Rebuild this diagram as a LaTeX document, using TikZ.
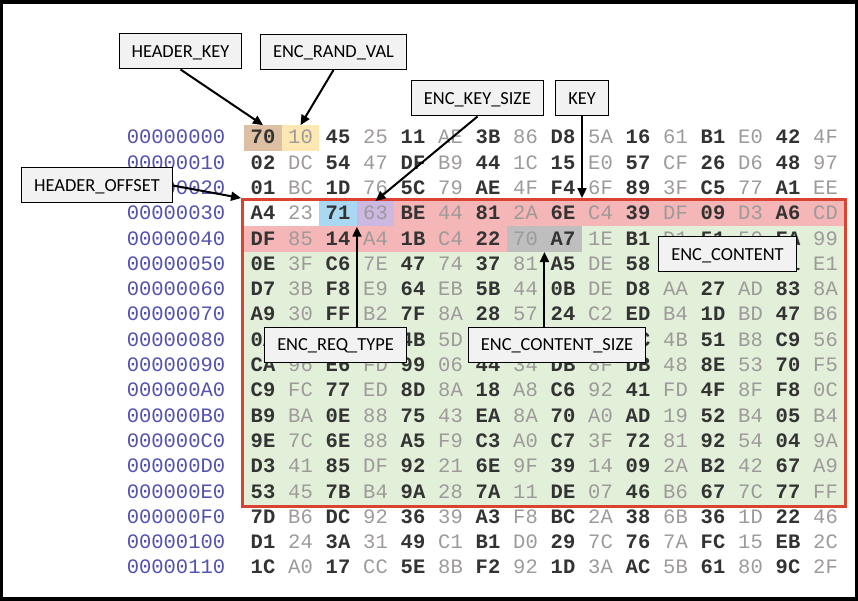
\documentclass[tikz,border=0pt]{standalone}
\usepackage{fontspec}
\setmainfont{Carlito}
\setmonofont{Liberation Mono}
\usetikzlibrary{arrows.meta, positioning, calc, fit, backgrounds}

\definecolor{keybrown}{HTML}{DDBFA3}
\definecolor{randyellow}{HTML}{FDE8B4}
\definecolor{sizeblue}{HTML}{A9D9F2}
\definecolor{reqlilac}{HTML}{CDB8E2}
\definecolor{hdrred}{HTML}{F4B6B6}
\definecolor{lengray}{HTML}{BEBEBE}
\definecolor{bodygreen}{HTML}{E2EFD9}
\definecolor{framered}{HTML}{D9432F}
\definecolor{addrblue}{HTML}{5252B0}
\definecolor{hexdarkc}{HTML}{333333}
\definecolor{hexlightc}{HTML}{9E9A9A}
\definecolor{tagfill}{HTML}{F2F2F2}

\tikzset{
  tag/.style={draw=black, fill=tagfill, line width=1pt,
    font=\fontsize{18.4}{22}\selectfont, inner xsep=12.5pt,
    minimum height=35pt, text height=11.8pt, text depth=0pt},
  tagarrow/.style={line width=2pt, -{Triangle[length=10pt,width=9pt]}},
  hexcell/.style={minimum width=37.5pt, minimum height=25.3pt, inner sep=0pt,
    text height=11.7pt, text depth=0pt},
  hexdark/.style={text=hexdarkc, font=\ttfamily\bfseries\fontsize{20.5}{24}\selectfont},
  hexlight/.style={text=hexlightc, font=\ttfamily\fontsize{20.5}{24}\selectfont},
  addr/.style={text=addrblue, font=\ttfamily\fontsize{20.5}{24}\selectfont,
    inner sep=0pt, text height=11.7pt, text depth=0pt}
}

\begin{document}
\begin{tikzpicture}[x=1pt, y=-1pt]
  \begin{scope}[on background layer]
    \fill[black] (0,0) rectangle (858,601);
    \fill[white] (3,4) rectangle (855,597);
  \end{scope}
  \useasboundingbox (0,0) rectangle (858,601);

  % hex dump
  \foreach \addr/\bytes [count=\row from 0] in {
      00000000/{70,10,45,25,11,AE,3B,86,D8,5A,16,61,B1,E0,42,4F},
      00000010/{02,DC,54,47,DF,B9,44,1C,15,E0,57,CF,26,D6,48,97},
      00000020/{01,BC,1D,76,5C,79,AE,4F,F4,6F,89,3F,C5,77,A1,EE},
      00000030/{A4,23,71,63,BE,44,81,2A,6E,C4,39,DF,09,D3,A6,CD},
      00000040/{DF,85,14,A4,1B,C4,22,70,A7,1E,B1,D1,51,50,FA,99},
      00000050/{0E,3F,C6,7E,47,74,37,81,A5,DE,58,C2,9B,3D,71,E1},
      00000060/{D7,3B,F8,E9,64,EB,5B,44,0B,DE,D8,AA,27,AD,83,8A},
      00000070/{A9,30,FF,B2,7F,8A,28,57,24,C2,ED,B4,1D,BD,47,B6},
      00000080/{0A,6E,2C,91,4B,5D,3E,87,F0,12,7C,4B,51,B8,C9,56},
      00000090/{CA,96,E6,FD,99,06,44,34,DB,8F,DB,48,8E,53,70,F5},
      000000A0/{C9,FC,77,ED,8D,8A,18,A8,C6,92,41,FD,4F,8F,F8,0C},
      000000B0/{B9,BA,0E,88,75,43,EA,8A,70,A0,AD,19,52,B4,05,B4},
      000000C0/{9E,7C,6E,88,A5,F9,C3,A0,C7,3F,72,81,92,54,04,9A},
      000000D0/{D3,41,85,DF,92,21,6E,9F,39,14,09,2A,B2,42,67,A9},
      000000E0/{53,45,7B,B4,9A,28,7A,11,DE,07,46,B6,67,7C,77,FF},
      000000F0/{7D,B6,DC,92,36,39,A3,F8,BC,2A,38,6B,36,1D,22,46},
      00000100/{D1,24,3A,31,49,C1,B1,D0,29,7C,76,7A,FC,15,EB,2C},
      00000110/{1C,A0,17,CC,5E,8B,F2,92,1D,3A,AC,5B,61,80,9C,2F}}{
    \node[addr] (a-\row) at (176, 138+25.3*\row) {\addr};
    \foreach \byte [count=\col from 0] in \bytes {
      \ifodd\col\def\hexsty{hexlight}\else\def\hexsty{hexdark}\fi
      \node[hexcell, \hexsty] (c-\row-\col) at (263+37.5*\col, 138+25.3*\row) {\byte};
    }
  }

  % field colours
  \begin{scope}[on background layer]
    \fill[keybrown]   (c-0-0.north west) rectangle (c-0-0.south east);
    \fill[randyellow] (c-0-1.north west) rectangle (c-0-1.south east);
    \fill[sizeblue]   (c-3-2.north west) rectangle (c-3-2.south east);
    \fill[reqlilac]   (c-3-3.north west) rectangle (c-3-3.south east);
    \fill[hdrred]     (c-3-4.north west) rectangle (c-3-15.south east);
    \fill[hdrred]     (c-4-0.north west) rectangle (c-4-6.south east);
    \fill[lengray]    (c-4-7.north west) rectangle (c-4-8.south east);
    \fill[bodygreen]  (c-4-9.north west) rectangle (c-4-15.south east);
    \fill[bodygreen]  (c-5-0.north west) rectangle (c-14-15.south east);
  \end{scope}
  \node[fit=(c-3-0)(c-14-15), inner sep=1.5pt, draw=framered, line width=3pt] (encbox) {};

  % labels
  \node[tag] (hkey)    at (180.5,51.5) {HEADER\_KEY};
  \node[tag] (rand)    at (333.5,52)   {ENC\_RAND\_VAL};
  \node[tag] (ksize)   at (477.5,98.5) {ENC\_KEY\_SIZE};
  \node[tag] (key)     at (582,98.5)   {KEY};
  \node[tag] (hoff)    at (97,185.5)   {HEADER\_OFFSET};
  \node[tag] (content) at (727.5,254.5) {ENC\_CONTENT};
  \node[tag] (rtype)   at (335.5,345)  {ENC\_REQ\_TYPE};
  \node[tag] (csize)   at (557,345)    {ENC\_CONTENT\_SIZE};

  \draw[tagarrow] (hkey.south) -- (c-0-0.north);
  \draw[tagarrow] (rand.south) -- (c-0-1.north);
  \draw[tagarrow] (ksize.south) -- (c-3-3.north);
  \draw[tagarrow] (key.south) -- (key.south |- encbox.north);
  \draw[tagarrow] (hoff.east) -- (encbox.north west);
  \draw[tagarrow] (rtype.north -| c-3-2.south east) -- (c-3-2.south east);
  \draw[tagarrow] (csize.north -| c-4-7.south east) -- (c-4-7.south east);
\end{tikzpicture}
\end{document}
